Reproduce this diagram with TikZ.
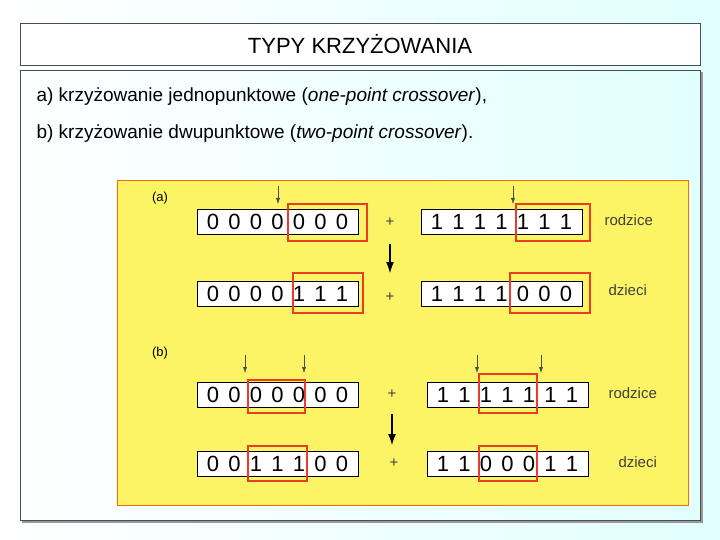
\documentclass[tikz,border=0pt]{standalone}
\usepackage{fontspec}
\setmainfont{Liberation Sans}
\usetikzlibrary{arrows.meta}
\definecolor{xred}{RGB}{235,60,40}
\definecolor{panel}{RGB}{252,244,100}
\begin{document}
\begin{tikzpicture}[x=1pt,y=-1pt,
  bit/.style={draw=black,fill=white,minimum width=161pt,minimum height=25pt,inner sep=0pt},
  xbox/.style={draw=xred,line width=1.2pt},
  lbl/.style={font=\fontsize{15}{16}\selectfont,text=black!75},
  dig/.style={font=\fontsize{22}{22}\selectfont,inner sep=0pt}]
\useasboundingbox (0,0) rectangle (720,540);
\shade[left color=white,right color=cyan!12] (0,0) rectangle (720,540);
\node[draw=black!70,fill=white,minimum width=680pt,minimum height=42pt,font=\fontsize{22}{24}\selectfont] (title) at (360,44) {TYPY KRZYŻOWANIA};
\draw[black!40,line width=2pt] (22,522) -- (702,522) -- (702,72);
\node[draw=black!70,minimum width=680pt,minimum height=450pt,inner sep=0pt] (main) at (360,295) {};
\node[anchor=west,font=\fontsize{19}{20}\selectfont] (la) at (33,97) {a) krzyżowanie jednopunktowe (\textit{one-point crossover}),};
\node[anchor=west,font=\fontsize{19}{20}\selectfont] (lb) at (33,134) {b) krzyżowanie dwupunktowe (\textit{two-point crossover}).};
\filldraw[fill=panel,draw=orange!80!red] (117,180) rectangle (688,505);
\node[font=\fontsize{13}{13}\selectfont\rmfamily] (pa) at (160,198) {(a)};
\node[font=\fontsize{13}{13}\selectfont\rmfamily] (pb) at (160,353) {(b)};
\def\row#1#2#3#4{%
  \node[bit,anchor=west] (#1) at (#2,#3) {};
  \foreach \d [count=\i from 0] in {#4} \node[dig] at (#2+16+\i*21.5,#3) {\d};}
\row{a1}{197}{222}{0,0,0,0,0,0,0}
\row{a2}{421}{222}{1,1,1,1,1,1,1}
\row{a3}{197}{294}{0,0,0,0,1,1,1}
\row{a4}{421}{294}{1,1,1,1,0,0,0}
\row{b1}{197}{395}{0,0,0,0,0,0,0}
\row{b2}{427}{395}{1,1,1,1,1,1,1}
\row{b3}{197}{464}{0,0,1,1,1,0,0}
\row{b4}{427}{464}{1,1,0,0,0,1,1}
\draw[xbox] (288,204) rectangle (367,241);
\draw[xbox] (516,204) rectangle (590,241);
\draw[xbox] (293,273) rectangle (363,313);
\draw[xbox] (510,273) rectangle (590,313);
\draw[xbox] (248,380) rectangle (305,413);
\draw[xbox] (479,374) rectangle (537,413);
\draw[xbox] (248,446) rectangle (307,481);
\draw[xbox] (479,446) rectangle (537,481);
\foreach \n/\x/\ya/\yb in {s1/278/186/204, s2/513/186/204, s3/245/355/373, s4/304/355/373, s5/477/355/373, s6/541/355/373}{
  \coordinate (\n a) at (\x,\ya); \coordinate (\n b) at (\x,\yb);
  \draw[black!70,-{Latex[length=6pt,width=4pt]}] (\n a) -- (\n b);}
\coordinate (ba1) at (390,244); \coordinate (ba2) at (390,274);
\coordinate (bb1) at (392,414); \coordinate (bb2) at (392,446);
\draw[line width=2.2pt,-{Latex[length=12pt,width=8pt]}] (ba1) -- (ba2);
\draw[line width=2.2pt,-{Latex[length=12pt,width=8pt]}] (bb1) -- (bb2);
\foreach \x/\y in {390/222,390/297,392/394,394/463} \node[lbl] at (\x,\y) {+};
\node[lbl,anchor=west] (r1) at (601,220) {rodzice};
\node[lbl,anchor=west] (d1) at (605,290) {dzieci};
\node[lbl,anchor=west] (r2) at (605,393) {rodzice};
\node[lbl,anchor=west] (d2) at (615,462) {dzieci};
\end{tikzpicture}
\end{document}
